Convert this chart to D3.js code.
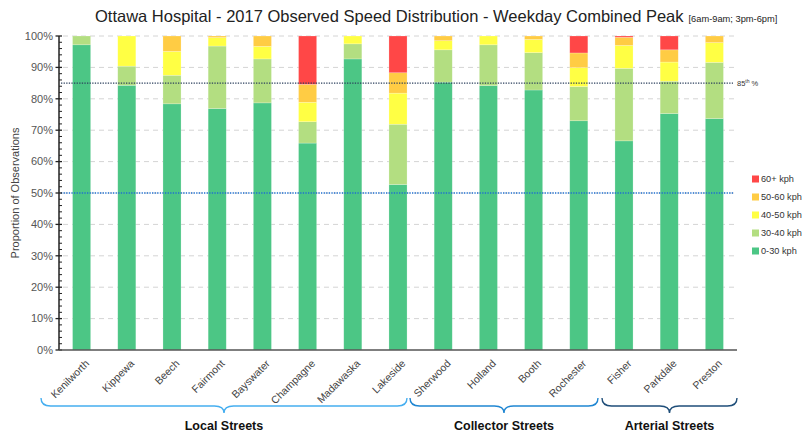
<!DOCTYPE html>
<html>
<head>
<meta charset="utf-8">
<script src="https://cdn.jsdelivr.net/npm/d3@7"></script>
<style>
  html, body { margin: 0; padding: 0; background: #fff; }
  svg { display: block; }
</style>
</head>
<body>
<svg id="chart" width="804" height="436"></svg>
<script>
// Streets surveyed, in display order
const streets = ["Kenilworth", "Kippewa", "Beech", "Fairmont", "Bayswater", "Champagne", "Madawaska", "Lakeside",
                 "Sherwood", "Holland", "Booth", "Rochester", "Fisher", "Parkdale", "Preston"];

// Speed bins (bottom to top) and share of observations (%) per street
const bins = ["0-30 kph", "30-40 kph", "40-50 kph", "50-60 kph", "60+ kph"];
const kph0to30  = [97.2, 84.3, 78.4, 76.9, 78.7, 65.9, 92.7, 52.7, 85.3, 84.2, 82.8, 73.0, 66.6, 75.3, 73.7];
const kph30to40 = [ 2.8,  6.1,  9.1, 19.9, 14.0,  6.8,  4.8, 19.2, 10.3, 13.0, 11.9, 10.9, 23.1, 10.3, 17.9];
const kph40to50 = [ 0.0,  9.6,  7.6,  2.7,  4.0,  6.2,  2.5,  9.9,  2.9,  2.8,  4.2,  6.0,  7.3,  6.1,  6.3];
const kph50to60 = [ 0.0,  0.0,  4.9,  0.5,  3.3,  5.7,  0.0,  6.5,  1.5,  0.0,  1.1,  4.7,  2.6,  3.9,  2.1];
const kph60plus = [ 0.0,  0.0,  0.0,  0.0,  0.0, 15.4,  0.0, 11.7,  0.0,  0.0,  0.0,  5.4,  0.4,  4.4,  0.0];

// Street classification groups
const groupNames = ["Local Streets", "Collector Streets", "Arterial Streets"];

// Reference lines
const refLevels = [85, 50];
const yTicks = [0, 10, 20, 30, 40, 50, 60, 70, 80, 90, 100];

const binColors = ["#4cc685", "#b3de81", "#ffff44", "#ffcc44", "#ff4747"];
const braceColors = ["#45aef0", "#1f86d2", "#1f4e79"];

const svg = d3.select("#chart");
const x0 = 59, x1 = 737, yTop = 36, yBot = 350;

const x = d3.scaleBand().domain(streets).range([x0, x1]).paddingInner(0.6).paddingOuter(0.3);
const y = d3.scaleLinear().domain([0, 100]).range([yBot, yTop]);

const table = streets.map((s, i) => ({
  street: s,
  "0-30 kph": kph0to30[i], "30-40 kph": kph30to40[i], "40-50 kph": kph40to50[i],
  "50-60 kph": kph50to60[i], "60+ kph": kph60plus[i]
}));
const stacked = d3.stack().keys(bins)(table);

// Gridlines
svg.append("g").selectAll("line").data(yTicks.filter(t => t > 0)).join("line")
  .attr("x1", x0 + 4).attr("x2", x1)
  .attr("y1", d => y(d)).attr("y2", d => y(d))
  .attr("stroke", "#d4d4d4").attr("stroke-width", 1).attr("stroke-dasharray", "5,4");

// Bars
svg.append("g").selectAll("g").data(stacked).join("g")
  .attr("fill", (d, i) => binColors[i])
  .selectAll("rect").data(d => d.filter(p => p[1] - p[0] > 0)).join("rect")
  .attr("x", d => x(d.data.street))
  .attr("width", x.bandwidth())
  .attr("y", d => y(d[1]))
  .attr("height", d => y(d[0]) - y(d[1]))
  .attr("stroke", "rgba(255,255,255,0.35)").attr("stroke-width", 0.6);

// Reference lines (85th percentile, median)
const refColors = ["#2b3f5c", "#1f6fd0"];
svg.append("g").selectAll("line").data(refLevels).join("line")
  .attr("x1", x0 + 2).attr("x2", 733)
  .attr("y1", d => y(d)).attr("y2", d => y(d))
  .attr("stroke", (d, i) => refColors[i]).attr("stroke-width", 1.3).attr("stroke-dasharray", "1.3,1.3");

const lbl85 = svg.append("text").attr("x", 737).attr("y", y(85) + 3)
  .attr("font-family", "Liberation Sans, Arial, sans-serif").attr("font-size", 7.5).attr("fill", "#333");
lbl85.append("tspan").text("85");
lbl85.append("tspan").attr("dy", -3).attr("font-size", 5).text("th");
lbl85.append("tspan").attr("dy", 3).text(" %");

// Y axis
const yAxis = svg.append("g").attr("transform", `translate(${x0},0)`);
yAxis.append("line").attr("x1", 0).attr("x2", 0).attr("y1", yTop).attr("y2", yBot)
  .attr("stroke", "#222").attr("stroke-width", 1.5);
const minor = d3.range(0, 101, 2).filter(v => v % 10 !== 0);
yAxis.selectAll(".minor").data(minor).join("line")
  .attr("x1", 0).attr("x2", 3).attr("y1", d => y(d)).attr("y2", d => y(d))
  .attr("stroke", "#222").attr("stroke-width", 1);
yAxis.selectAll(".major").data(yTicks).join("line")
  .attr("x1", -3.5).attr("x2", 3).attr("y1", d => y(d)).attr("y2", d => y(d))
  .attr("stroke", "#222").attr("stroke-width", 1.3);
yAxis.selectAll("text").data(yTicks).join("text")
  .attr("x", -6).attr("y", d => y(d)).attr("dy", "0.35em")
  .attr("text-anchor", "end")
  .attr("font-family", "Liberation Sans, Arial, sans-serif").attr("font-size", 11).attr("fill", "#555")
  .text(d => d + "%");

svg.append("text")
  .attr("transform", `translate(19,${(yTop + yBot) / 2}) rotate(-90)`)
  .attr("text-anchor", "middle")
  .attr("font-family", "Liberation Sans, Arial, sans-serif").attr("font-size", 11).attr("fill", "#444")
  .text("Proportion of Observations");

// X axis
svg.append("line").attr("x1", x0).attr("x2", x1).attr("y1", yBot).attr("y2", yBot)
  .attr("stroke", "#555").attr("stroke-width", 1.6);
svg.append("g").selectAll("text").data(streets).join("text")
  .attr("transform", d => `translate(${x(d) + x.bandwidth() / 2 + 3},${yBot + 9}) rotate(-45)`)
  .attr("text-anchor", "end").attr("dy", "0.7em")
  .attr("font-family", "Liberation Sans, Arial, sans-serif").attr("font-size", 10.5).attr("fill", "#444")
  .text(d => d);

// Group braces
function bracePath(xa, xb, yt, depth, tip) {
  const xm = (xa + xb) / 2, r = 6;
  const yl = yt + depth;
  return `M${xa},${yt} Q${xa},${yl} ${xa + r * 1.6},${yl} L${xm - r * 1.6},${yl} Q${xm},${yl} ${xm},${yl + tip}` +
         ` Q${xm},${yl} ${xm + r * 1.6},${yl} L${xb - r * 1.6},${yl} Q${xb},${yl} ${xb},${yt}`;
}
const groupSpans = [
  { name: groupNames[0], a: 41, b: 407 },
  { name: groupNames[1], a: 410, b: 598 },
  { name: groupNames[2], a: 602, b: 737 }
];

svg.append("g").selectAll("path").data(groupSpans).join("path")
  .attr("d", d => bracePath(d.a, d.b, 398, 8, 7))
  .attr("fill", "none").attr("stroke", (d, i) => braceColors[i]).attr("stroke-width", 1.4);
svg.append("g").selectAll("text").data(groupSpans).join("text")
  .attr("x", d => (d.a + d.b) / 2).attr("y", 430)
  .attr("text-anchor", "middle")
  .attr("font-family", "Liberation Sans, Arial, sans-serif").attr("font-weight", "bold").attr("font-size", 12.5)
  .attr("fill", "#111")
  .text(d => d.name);

// Legend (top bin first)
const legendOrder = bins.slice().reverse();
const lg = svg.append("g").selectAll("g").data(legendOrder).join("g")
  .attr("transform", (d, i) => `translate(752,${179 + i * 18})`);
lg.append("rect").attr("x", 0).attr("y", -3.5).attr("width", 7).attr("height", 7)
  .attr("fill", d => binColors[bins.indexOf(d)]);
lg.append("text").attr("x", 9).attr("y", 0).attr("dy", "0.35em")
  .attr("font-family", "Liberation Sans, Arial, sans-serif").attr("font-size", 9.2).attr("fill", "#333")
  .text(d => d);

// Title
const title = svg.append("text").attr("x", 95).attr("y", 22)
  .attr("font-family", "Liberation Sans Narrow, Arial Narrow, Liberation Sans, sans-serif")
  .attr("font-size", 16.5).attr("fill", "#222");
title.append("tspan").text("Ottawa Hospital - 2017 Observed Speed Distribution - Weekday Combined Peak");
title.append("tspan").attr("dx", 5).attr("font-size", 9.3).text("[6am-9am; 3pm-6pm]");
</script>
</body>
</html>
